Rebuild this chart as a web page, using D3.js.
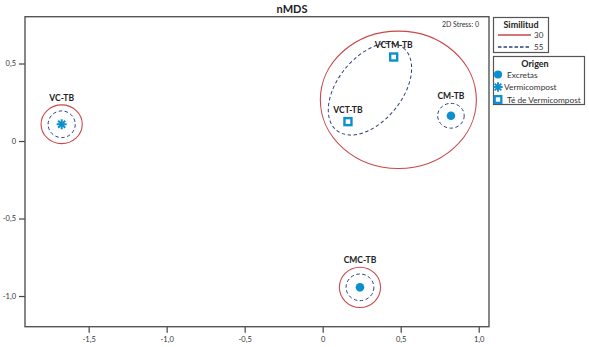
<!DOCTYPE html>
<html><head><meta charset="utf-8">
<script src="https://cdn.jsdelivr.net/npm/d3@7"></script>
<style>
body{margin:0;background:#fff;}
text{font-family:Lato,"Open Sans",sans-serif;}
</style></head>
<body><svg id="c" width="589" height="347"></svg>
<script>
// ---- data ----
const samples = ["VC-TB","VCTM-TB","VCT-TB","CM-TB","CMC-TB"];
const nmds1 = [-1.673, 0.455, 0.162, 0.822, 0.239];
const nmds2 = [0.108, 0.542, 0.125, 0.163, -0.944];
const origen = ["Vermicompost","Té de Vermicompost","Té de Vermicompost","Excretas","Excretas"];
const origenLevels = ["Excretas","Vermicompost","Té de Vermicompost"];
const simLevels = ["30","55"];
const xTicks = [-1.5,-1.0,-0.5,0,0.5,1.0];
const xTickLabels = ["-1,5","-1,0","-0,5","0","0,5","1,0"];
const yTicks = [0.5,0,-0.5,-1.0];
const yTickLabels = ["0,5","0","-0,5","-1,0"];
// similarity clusters (ellipse outlines in nMDS units)
const clusterLevel = ["30","30","30","55","55","55","55"];
const clusterCx = [-1.673, 0.485, 0.239, -1.673, 0.303, 0.822, 0.239];
const clusterCy = [0.108, 0.266, -0.944, 0.108, 0.335, 0.163, -0.944];
const clusterRx = [0.132, 0.500, 0.132, 0.087, 0.340, 0.085, 0.089];
const clusterRy = [0.125, 0.443, 0.130, 0.086, 0.207, 0.080, 0.086];
const clusterAngle = [0, 0, 0, 0, 51, 0, 0];

const svg = d3.select("#c");
const L=25, R=489, T=16.7, B=326.7;
const x = d3.scaleLinear().domain([-1.908, 1.066]).range([L, R]);
const y = d3.scaleLinear().domain([-1.198, 0.802]).range([B, T]);
const blue = "#0b8fce", red = "#c9474b", navy = "#2d3f78";

// title
svg.append("text").attr("x",292).attr("y",13).attr("text-anchor","middle")
  .attr("font-size",11).attr("font-weight","bold").attr("fill","#222").text("nMDS");

// axes
const xa = d3.axisBottom(x).tickValues(xTicks).tickSize(6).tickFormat((d,i)=>xTickLabels[i]);
const ya = d3.axisLeft(y).tickValues(yTicks).tickSize(6).tickFormat((d,i)=>yTickLabels[i]);
const gx = svg.append("g").attr("transform",`translate(0,${B})`).call(xa);
const gy = svg.append("g").attr("transform",`translate(${L},0)`).call(ya);
[gx,gy].forEach(g=>{
  g.select(".domain").remove();
  g.selectAll(".tick line").attr("stroke","#444").attr("stroke-width",1.2);
  g.selectAll(".tick text").attr("font-size",7.5).attr("fill","#333")
    .style("font-family","Lato,'Open Sans',sans-serif");
});
gx.selectAll(".tick text").attr("dy","0.9em").attr("y",9);
gy.selectAll(".tick text").attr("x",-9);
svg.append("rect").attr("x",L).attr("y",T).attr("width",R-L).attr("height",B-T)
  .attr("fill","none").attr("stroke","#555").attr("stroke-width",1.4);

svg.append("text").attr("x",479).attr("y",27).attr("text-anchor","end")
  .attr("font-size",7).attr("fill","#333").text("2D Stress: 0");

// cluster ellipses
const kx = (x(1)-x(0)), ky = (y(0)-y(1));
clusterLevel.forEach((lv,i)=>{
  svg.append("ellipse")
    .attr("transform",`translate(${x(clusterCx[i])},${y(clusterCy[i])}) rotate(${-clusterAngle[i]})`)
    .attr("rx",clusterRx[i]*kx).attr("ry",clusterRy[i]*ky)
    .attr("fill","none")
    .attr("stroke", lv==="30"?red:navy)
    .attr("stroke-width", lv==="30"?1.1:1)
    .attr("stroke-dasharray", lv==="30"?null:"3.5,2.5");
});

// markers
function drawMarker(g, type, cx, cy, s){
  if(type==="Excretas"){
    g.append("circle").attr("cx",cx).attr("cy",cy).attr("r",4.3*s).attr("fill",blue);
  } else if(type==="Vermicompost"){
    const r=5*s;
    for(let a=0;a<180;a+=45){
      const t=a*Math.PI/180;
      g.append("line").attr("x1",cx-r*Math.cos(t)).attr("y1",cy-r*Math.sin(t))
        .attr("x2",cx+r*Math.cos(t)).attr("y2",cy+r*Math.sin(t))
        .attr("stroke",blue).attr("stroke-width",2*s);
    }
  } else {
    const h=3.5*s;
    g.append("rect").attr("x",cx-h).attr("y",cy-h).attr("width",2*h).attr("height",2*h)
      .attr("fill","#fff").attr("stroke",blue).attr("stroke-width",2.4*s);
  }
}
const labelDy = {"VC-TB":-23,"VCTM-TB":-9,"VCT-TB":-9,"CM-TB":-17,"CMC-TB":-24};
samples.forEach((s,i)=>{
  const px=x(nmds1[i]), py=y(nmds2[i]);
  drawMarker(svg, origen[i], px, py, 1);
  svg.append("text").attr("x",px).attr("y",py+labelDy[s]).attr("text-anchor","middle")
    .attr("font-size",8.5).attr("font-weight","bold").attr("fill","#222").text(s);
});

// legend: Similitud
const lg1 = svg.append("g");
lg1.append("rect").attr("x",493.5).attr("y",17.5).attr("width",55).attr("height",35)
  .attr("fill","#fff").attr("stroke","#555").attr("stroke-width",1.2);
lg1.append("text").attr("x",521).attr("y",27.5).attr("text-anchor","middle")
  .attr("font-size",9).attr("font-weight","bold").attr("fill","#222").text("Similitud");
simLevels.forEach((lv,i)=>{
  const yy = 35 + i*12;
  lg1.append("line").attr("x1",498).attr("x2",531).attr("y1",yy).attr("y2",yy)
    .attr("stroke", i===0?red:navy).attr("stroke-width",1.4)
    .attr("stroke-dasharray", i===0?null:"3.5,2");
  lg1.append("text").attr("x",534).attr("y",yy+3).attr("font-size",8).attr("fill","#333").text(lv);
});

// legend: Origen
const lg2 = svg.append("g");
lg2.append("rect").attr("x",493.5).attr("y",56.5).attr("width",91).attr("height",48)
  .attr("fill","#fff").attr("stroke","#555").attr("stroke-width",1.2);
lg2.append("text").attr("x",535).attr("y",67).attr("text-anchor","middle")
  .attr("font-size",9).attr("font-weight","bold").attr("fill","#222").text("Origen");
origenLevels.forEach((o,i)=>{
  const yy = 74.5 + i*12.5;
  drawMarker(lg2, o, 498, yy, 0.95);
  lg2.append("text").attr("x", o==="Vermicompost"?504:507).attr("y",yy+3)
    .attr("font-size",8.3).attr("fill","#333").text(o);
});
</script></body></html>
